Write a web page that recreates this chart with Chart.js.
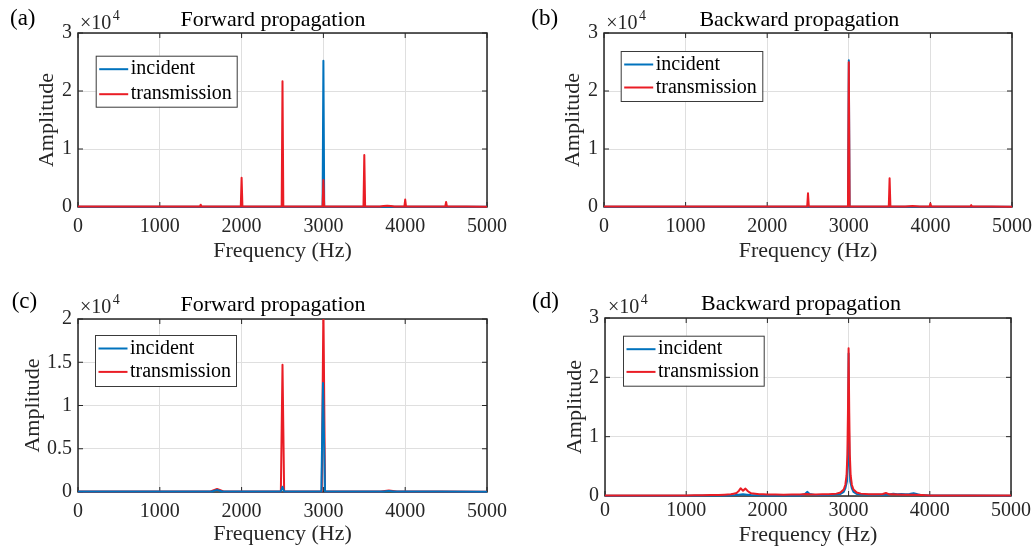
<!DOCTYPE html>
<html>
<head>
<meta charset="utf-8">
<script src="https://cdn.jsdelivr.net/npm/chart.js@4.4.0/dist/chart.umd.min.js"></script>
<style>
  html, body { margin: 0; padding: 0; background: #fff; }
  body { position: relative; width: 1036px; height: 551px; overflow: hidden; }
  canvas { position: absolute; }
</style>
</head>
<body>
<canvas id="panelA" width="518" height="275" style="left:0;top:0"></canvas>
<canvas id="panelB" width="518" height="275" style="left:518px;top:0"></canvas>
<canvas id="panelC" width="518" height="276" style="left:0;top:275px"></canvas>
<canvas id="panelD" width="518" height="276" style="left:518px;top:275px"></canvas>
<script>
// tick labels
const xTicks = [0, 1000, 2000, 3000, 4000, 5000];
const yTicksAB = [0, 1, 2, 3];          // x10^4
const yTicksC = [0, 0.5, 1, 1.5, 2];    // x10^4
const yTicksD = [0, 1, 2, 3];

// (a) forward propagation
const aIncFreq = [0, 2990, 3000, 3010, 5000];
const aIncAmp = [60, 60, 25200, 60, 40];
const aTransFreq = [0, 1490, 1500, 1510, 1990, 2000, 2010, 2490, 2500, 2510, 2990, 3000, 3010,
  3490, 3500, 3510, 3690, 3780, 3870, 3990, 4000, 4010, 4490, 4500, 4510, 5000];
const aTransAmp = [80, 80, 400, 80, 80, 5050, 80, 80, 21700, 80, 80, 4650, 80,
  80, 8950, 80, 90, 220, 90, 80, 1280, 80, 80, 880, 80, 60];

// (b) backward propagation
const bIncFreq = [0, 2990, 3000, 3010, 5000];
const bIncAmp = [60, 60, 25300, 60, 40];
const bTransFreq = [0, 2490, 2500, 2510, 2990, 3000, 3010, 3490, 3500, 3510,
  3690, 3780, 3870, 3990, 4000, 4010, 4490, 4500, 4510, 5000];
const bTransAmp = [80, 80, 2350, 80, 80, 24950, 80, 80, 4950, 80,
  90, 180, 90, 80, 600, 80, 80, 320, 80, 60];

// (c) forward propagation
const cIncFreq = [0, 1640, 1700, 1760, 2480, 2500, 2520, 2975, 2995, 3020, 3740, 3800, 3860, 5000];
const cIncAmp = [60, 60, 250, 60, 60, 600, 60, 60, 12600, 60, 60, 130, 60, 40];
const cTransFreq = [0, 1620, 1700, 1780, 2480, 2500, 2520, 2980, 3000, 3020, 3700, 3800, 3900, 5000];
const cTransAmp = [60, 60, 350, 60, 60, 14700, 60, 60, 21500, 60, 60, 180, 60, 40];

// (d) backward propagation
const dIncFreq = [0, 1000, 1500, 1600, 1700, 1800, 2000, 2400, 2460, 2490, 2520, 2600, 2800,
  2900, 2940, 2960, 2980, 2990, 2996, 3000, 3004, 3010, 3020, 3040, 3060, 3100, 3200, 3400,
  3500, 3550, 3600, 3650, 3700, 3750, 3800, 3850, 3900, 4000, 5000];
const dIncAmp = [60, 60, 80, 150, 300, 150, 80, 100, 300, 700, 350, 150, 200,
  350, 700, 1300, 2500, 6000, 12000, 24000, 12000, 6000, 2500, 1300, 700, 350, 250, 200,
  250, 400, 300, 350, 300, 350, 480, 300, 150, 80, 60];
const dTransFreq = [0, 500, 1000, 1200, 1400, 1550, 1620, 1650, 1670, 1700, 1730, 1760, 1800,
  1900, 2000, 2200, 2400, 2480, 2520, 2600, 2750, 2850, 2900, 2940, 2960, 2975, 2985, 2992,
  3000, 3008, 3015, 3025, 3040, 3060, 3100, 3150, 3250, 3350, 3420, 3460, 3500, 3600, 3700,
  3800, 3900, 4000, 4500, 5000];
const dTransAmp = [80, 90, 100, 130, 180, 280, 500, 900, 1300, 900, 1250, 800, 450,
  300, 250, 220, 250, 350, 300, 250, 300, 400, 600, 1100, 1900, 3500, 7000, 14000,
  24900, 14000, 7000, 3500, 1900, 1100, 600, 400, 300, 280, 350, 500, 300, 250, 220,
  200, 150, 100, 80, 70];

const legendNames = ['incident', 'transmission'];

const SERIF = '"Liberation Serif", "Times New Roman", serif';
const AXIS = '#262626';
const GRID = '#dfdfdf';
const BLUE = '#0072bd';
const RED = '#ea1d25';

Chart.defaults.font.family = SERIF;

function pts(fs, as) {
  return fs.map((f, i) => ({x: f, y: as[i]}));
}

// box, inward ticks, panel letter, title, exponent and legend (MATLAB look)
const decor = {
  id: 'decor',
  beforeDatasetsDraw(chart) {
    const {ctx, chartArea: a, scales: {x, y}} = chart;
    ctx.save();
    ctx.strokeStyle = AXIS;
    ctx.lineWidth = 1;
    ctx.beginPath();
    x.ticks.forEach(t => {
      const px = x.getPixelForValue(t.value);
      ctx.moveTo(px, a.bottom); ctx.lineTo(px, a.bottom - 5);
      ctx.moveTo(px, a.top); ctx.lineTo(px, a.top + 5);
    });
    y.ticks.forEach(t => {
      const py = y.getPixelForValue(t.value);
      ctx.moveTo(a.left, py); ctx.lineTo(a.left + 5, py);
      ctx.moveTo(a.right, py); ctx.lineTo(a.right - 5, py);
    });
    ctx.stroke();
    ctx.lineWidth = 1.5;
    ctx.strokeRect(a.left, a.top, a.right - a.left, a.bottom - a.top);
    ctx.restore();
  },
  afterDraw(chart, args, o) {
    const ctx = chart.ctx;
    ctx.save();
    ctx.textBaseline = 'alphabetic';
    ctx.fillStyle = '#000';
    ctx.textAlign = 'left';
    ctx.font = '23px ' + SERIF;
    ctx.fillText(o.label, o.labelX, o.labelY);
    ctx.textAlign = 'center';
    ctx.font = '22px ' + SERIF;
    ctx.fillText(o.title, o.titleX, o.titleY);

    ctx.fillStyle = AXIS;
    ctx.textAlign = 'left';
    ctx.font = '20px ' + SERIF;
    ctx.fillText('\u00d710', o.expX, o.expY);
    const w = ctx.measureText('\u00d710').width;
    ctx.font = '14px ' + SERIF;
    ctx.fillText('4', o.expX + w + 1.5, o.expY - 9);

    const L = o.legend;
    ctx.fillStyle = '#fff';
    ctx.fillRect(L.x, L.y, L.w, L.h);
    ctx.strokeStyle = '#3a3a3a';
    ctx.lineWidth = 1;
    ctx.strokeRect(L.x + 0.5, L.y + 0.5, L.w, L.h);
    ctx.font = '20px ' + SERIF;
    ctx.textBaseline = 'middle';
    legendNames.forEach((name, i) => {
      const ds = chart.data.datasets.find(d => d.label === name);
      const ry = L.y + 13.5 + i * L.gap;
      ctx.strokeStyle = ds.borderColor;
      ctx.lineWidth = 2;
      ctx.beginPath();
      ctx.moveTo(L.x + 3.5, ry);
      ctx.lineTo(L.x + 32.5, ry);
      ctx.stroke();
      ctx.fillStyle = '#000';
      ctx.fillText(name, L.x + 35, ry);
    });
    ctx.restore();
  }
};

function makePanel(canvasId, p) {
  return new Chart(document.getElementById(canvasId), {
    type: 'line',
    data: {
      datasets: [
        {label: 'incident', data: pts(p.incFreq, p.incAmp), borderColor: BLUE, order: p.incOnTop ? 0 : 1},
        {label: 'transmission', data: pts(p.transFreq, p.transAmp), borderColor: RED, order: p.incOnTop ? 1 : 0}
      ]
    },
    options: {
      responsive: false,
      animation: false,
      devicePixelRatio: 1,
      layout: {padding: {left: 0, top: p.area.top, right: p.w - p.area.right, bottom: 0}},
      datasets: {line: {clip: {left: 3, top: 0, right: 3, bottom: 3}}},
      elements: {
        point: {radius: 0},
        // tiny tension keeps segments straight but avoids the per-pixel fast path
        line: {tension: 0.000001, borderWidth: 2, borderJoinStyle: 'round', fill: false}
      },
      plugins: {legend: {display: false}, tooltip: {enabled: false}, decor: p.decor},
      scales: {
        x: {
          type: 'linear', min: 0, max: 5000,
          afterBuildTicks: s => { s.ticks = xTicks.map(v => ({value: v})); },
          afterFit: s => { s.height = p.h - p.area.bottom; s.paddingLeft = 0; s.paddingRight = 0; },
          grid: {color: GRID, drawTicks: false, lineWidth: 1},
          border: {display: false},
          ticks: {font: {size: 20}, color: AXIS, padding: p.xTickPad, maxRotation: 0, autoSkip: false,
                  callback: v => String(v)},
          title: {display: true, text: 'Frequency (Hz)', font: {size: 22}, color: AXIS,
                  padding: {top: 0, bottom: p.xTitlePad}}
        },
        y: {
          type: 'linear', min: 0, max: p.yTicks[p.yTicks.length - 1] * 1e4,
          afterBuildTicks: s => { s.ticks = p.yTicks.map(v => ({value: v * 1e4})); },
          afterFit: s => { s.width = p.area.left; s.paddingTop = 0; s.paddingBottom = 0; },
          grid: {color: GRID, drawTicks: false, lineWidth: 1},
          border: {display: false},
          ticks: {font: {size: 20}, color: AXIS, padding: 6, autoSkip: false,
                  callback: v => String(v / 1e4)},
          title: {display: true, text: 'Amplitude', font: {size: 22}, color: AXIS,
                  padding: {top: p.yTitlePad, bottom: 0}}
        }
      }
    },
    plugins: [decor]
  });
}

makePanel('panelA', {
  w: 518, h: 275, area: {left: 78, right: 487, top: 33, bottom: 207},
  incFreq: aIncFreq, incAmp: aIncAmp, transFreq: aTransFreq, transAmp: aTransAmp,
  yTicks: yTicksAB, incOnTop: false, xTickPad: 7.5, xTitlePad: 10.4, yTitlePad: 34,
  decor: {label: '(a)', labelX: 10, labelY: 25, title: 'Forward propagation', titleX: 273, titleY: 26,
          expX: 80, expY: 29, legend: {x: 95.7, y: 55.7, w: 141, h: 51, gap: 25}}
});

makePanel('panelB', {
  w: 518, h: 275, area: {left: 86, right: 494, top: 33, bottom: 207},
  incFreq: bIncFreq, incAmp: bIncAmp, transFreq: bTransFreq, transAmp: bTransAmp,
  yTicks: yTicksAB, incOnTop: false, xTickPad: 7.5, xTitlePad: 10.4, yTitlePad: 42,
  decor: {label: '(b)', labelX: 13.3, labelY: 25, title: 'Backward propagation', titleX: 281.3, titleY: 26,
          expX: 88.3, expY: 29, legend: {x: 102.7, y: 51, w: 141.6, h: 50, gap: 23}}
});

makePanel('panelC', {
  w: 518, h: 276, area: {left: 78, right: 487, top: 44, bottom: 217},
  incFreq: cIncFreq, incAmp: cIncAmp, transFreq: cTransFreq, transAmp: cTransAmp,
  yTicks: yTicksC, incOnTop: true, xTickPad: 7.7, xTitlePad: 3.7, yTitlePad: 20.3,
  decor: {label: '(c)', labelX: 11.7, labelY: 33, title: 'Forward propagation', titleX: 273, titleY: 36,
          expX: 80, expY: 38, legend: {x: 95, y: 60, w: 141, h: 51, gap: 23.4}}
});

makePanel('panelD', {
  w: 518, h: 276, area: {left: 87, right: 493, top: 43, bottom: 221},
  incFreq: dIncFreq, incAmp: dIncAmp, transFreq: dTransFreq, transAmp: dTransAmp,
  yTicks: yTicksD, incOnTop: false, xTickPad: 3, xTitlePad: 3, yTitlePad: 44.2,
  decor: {label: '(d)', labelX: 14, labelY: 33, title: 'Backward propagation', titleX: 283, titleY: 35,
          expX: 90, expY: 38, legend: {x: 105, y: 60.7, w: 140.7, h: 50, gap: 22.7}}
});
</script>
</body>
</html>
